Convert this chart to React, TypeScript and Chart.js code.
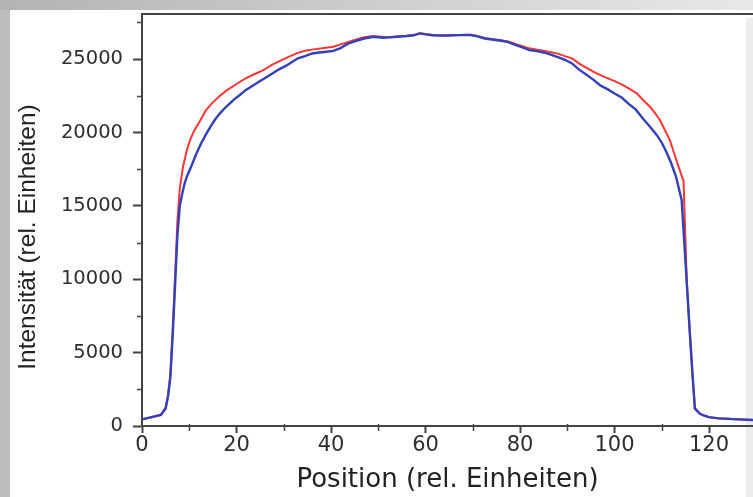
import React, { useEffect, useRef } from "react";
import { Chart, registerables } from "chart.js";

Chart.register(...registerables);

// ---- data ----
const bluePositions = [
  0, 2, 4, 5, 5.5, 6, 6.5, 7, 7.5, 8, 8.5, 9, 9.5, 10.5, 11.5, 12.5, 13.5, 14.5, 15.5, 16.5,
  17.5, 18.5, 19.5, 20.5, 22, 23.5, 25, 26.5, 28, 29, 30.5, 32, 33, 34.5, 36, 37.5, 39, 40.5,
  42, 43.5, 45, 47, 49, 51, 52.5, 54, 56, 57.5, 58.8, 60, 61.5, 63, 65, 67, 69.5, 71, 72.5, 74,
  76, 77.5, 79, 80.5, 82, 83.5, 85, 86.5, 88, 89.5, 91, 92.5, 94, 95.5, 97, 98.5, 100, 101.5,
  103, 104.5, 106, 107.5, 109, 110, 111, 112, 113, 114.2, 115.3, 116, 116.5, 117, 118, 119,
  120, 122, 125, 129.5,
];
const blueIntensity = [
  450, 600, 760, 1200, 2000, 3300, 6200, 9600, 13000, 15000, 15800, 16500, 17000, 17750, 18550,
  19250, 19850, 20400, 20900, 21300, 21650, 21950, 22250, 22500, 22900, 23200, 23500, 23800,
  24100, 24300, 24550, 24850, 25050, 25200, 25380, 25450, 25500, 25560, 25750, 26030, 26200,
  26400, 26520, 26450, 26480, 26520, 26570, 26620, 26750, 26680, 26620, 26600, 26610, 26630,
  26640, 26550, 26400, 26330, 26250, 26150, 25960, 25800, 25610, 25540, 25450, 25300, 25130,
  24950, 24700, 24280, 23950, 23600, 23200, 22950, 22650, 22380, 21950, 21550, 20950, 20390,
  19800, 19300, 18650, 17900, 17000, 15400, 9700, 6000, 3500, 1200, 850, 700, 600, 520, 470, 410,
];

const redPositions = [
  0, 2, 4, 5, 5.5, 6, 6.5, 7, 7.5, 8, 8.7, 9.5, 10.2, 11, 12.3, 13.5, 15, 16.5, 18, 20, 22, 24,
  25.7, 27.5, 29.2, 31, 32.7, 34.5, 36.3, 38.5, 40.5, 42, 43.5, 45, 47, 49, 51, 52.5, 54, 56,
  57.5, 58.8, 60, 61.5, 63, 65, 67, 69.5, 71, 72.5, 74, 76, 77.5, 79, 80.5, 82, 83.5, 85, 86.5,
  88, 89.5, 91, 92.7, 94, 95.5, 97, 98.5, 100, 101.5, 103, 104.7, 106, 107.5, 108.5, 109.6,
  110.6, 111.7, 112.6, 113.5, 114.6, 115.3, 116, 116.5, 117, 118, 119, 120, 122, 125, 129.5,
];
const redIntensity = [
  450, 600, 760, 1250, 2100, 3500, 6600, 10200, 14000, 16200, 17700, 18800, 19500, 20100, 20800,
  21500, 22050, 22500, 22880, 23300, 23700, 24000, 24250, 24600, 24880, 25150, 25390, 25560,
  25660, 25760, 25840, 26000, 26150, 26300, 26480, 26570, 26500, 26500, 26540, 26590, 26640,
  26760, 26700, 26640, 26620, 26620, 26640, 26650, 26580, 26440, 26370, 26290, 26200, 26030,
  25880, 25730, 25640, 25560, 25460, 25370, 25200, 25050, 24660, 24420, 24150, 23900, 23700,
  23500, 23280, 23000, 22660, 22230, 21750, 21350, 20850, 20200, 19480, 18600, 17700, 16700,
  9700, 6000, 3500, 1200, 850, 700, 600, 520, 470, 410,
];

const xTickValues = [0, 20, 40, 60, 80, 100, 120];
const xMinorTicks = [10, 30, 50, 70, 90, 110, 130];
const yTickValues = [0, 5000, 10000, 15000, 20000, 25000];
const yMinorTicks = [2500, 7500, 12500, 17500, 22500, 27500];
const xTitle = "Position (rel. Einheiten)";
const yTitle = "Intensität (rel. Einheiten)";

const AXIS = "#444444";
const TEXT = "#2e2e2e";

const framePlugin = {
  id: "frame",
  beforeDraw(chart: any) {
    const { ctx, width, height } = chart;
    ctx.save();
    ctx.fillStyle = "#ececec";
    ctx.fillRect(0, 0, width, height);
    const g = ctx.createLinearGradient(0, 0, width, 0);
    g.addColorStop(0, "#b3b3b3");
    g.addColorStop(1, "#e8e8e8");
    ctx.fillStyle = g;
    ctx.fillRect(0, 0, width, 10);
    ctx.fillStyle = "#bdbdbd";
    ctx.fillRect(0, 10, 10, height - 10);
    ctx.fillStyle = "#ffffff";
    ctx.fillRect(10, 10, 736, height - 10);
    ctx.fillRect(746, 10, width - 746, 8);
    ctx.restore();
  },
  afterDraw(chart: any) {
    const { ctx, chartArea, scales } = chart;
    const xs = scales.x;
    const ys = scales.y;
    ctx.save();
    ctx.strokeStyle = AXIS;
    ctx.lineWidth = 2;
    ctx.beginPath();
    ctx.moveTo(chartArea.left - 1, chartArea.top);
    ctx.lineTo(chart.width, chartArea.top);
    ctx.stroke();

    ctx.lineWidth = 1.5;
    ctx.beginPath();
    for (const v of xMinorTicks) {
      const px = Math.round(xs.getPixelForValue(v)) + 0.5;
      if (px > chartArea.right) continue;
      ctx.moveTo(px, chartArea.bottom - 2);
      ctx.lineTo(px, chartArea.bottom + 5);
    }
    for (const v of yMinorTicks) {
      const py = Math.round(ys.getPixelForValue(v)) + 0.5;
      if (py < chartArea.top) continue;
      ctx.moveTo(chartArea.left - 5, py);
      ctx.lineTo(chartArea.left, py);
    }
    ctx.stroke();

    ctx.translate(28.5, 237);
    ctx.rotate(-Math.PI / 2);
    ctx.font = "24.5px 'Liberation Sans', Arial, sans-serif";
    ctx.textAlign = "center";
    ctx.textBaseline = "middle";
    ctx.fillStyle = "#222222";
    ctx.fillText(yTitle, 0, 0);
    ctx.restore();
  },
};

export default function App() {
  const canvasRef = useRef<HTMLCanvasElement | null>(null);

  useEffect(() => {
    const canvas = canvasRef.current;
    if (!canvas) return;
    const chart = new Chart(canvas, {
      type: "line",
      data: {
        datasets: [
          {
            label: "blau",
            data: bluePositions.map((x, i) => ({ x, y: blueIntensity[i] })),
            borderColor: "rgb(52, 64, 186)",
            borderWidth: 2.4,
            pointRadius: 0,
            tension: 0,
            fill: false,
          },
          {
            label: "rot",
            data: redPositions.map((x, i) => ({ x, y: redIntensity[i] })),
            borderColor: "rgb(255, 52, 52)",
            borderWidth: 2,
            pointRadius: 0,
            tension: 0,
            fill: false,
          },
        ],
      },
      options: {
        animation: false,
        responsive: false,
        devicePixelRatio: 1,
        layout: { padding: { top: 14, right: 0, left: 0, bottom: 0 } },
        plugins: {
          legend: { display: false },
          tooltip: { enabled: false },
        },
        scales: {
          x: {
            type: "linear",
            min: 0,
            max: 129.3,
            afterBuildTicks: (scale: any) => {
              scale.ticks = xTickValues.map((v) => ({ value: v }));
            },
            afterFit: (scale: any) => {
              scale.height = 71;
              scale.paddingLeft = 0;
              scale.paddingRight = 0;
            },
            grid: {
              drawOnChartArea: false,
              drawTicks: true,
              tickLength: 7,
              tickColor: AXIS,
              tickWidth: 2,
            },
            border: { display: true, color: AXIS, width: 2 },
            ticks: {
              color: TEXT,
              padding: 0,
              maxRotation: 0,
              callback: (v: any) => String(v),
              font: { family: "'DejaVu Sans', sans-serif", size: 21 },
            },
            title: {
              display: true,
              text: xTitle,
              color: "#222222",
              padding: { top: 0, bottom: 1 },
              font: { family: "'DejaVu Sans', sans-serif", size: 26 },
            },
          },
          y: {
            type: "linear",
            min: 0,
            max: 28070,
            afterBuildTicks: (scale: any) => {
              scale.ticks = yTickValues.map((v) => ({ value: v }));
            },
            afterFit: (scale: any) => {
              scale.width = 142;
              scale.paddingTop = 0;
              scale.paddingBottom = 0;
            },
            grid: {
              drawOnChartArea: false,
              drawTicks: true,
              tickLength: 9,
              tickColor: AXIS,
              tickWidth: 2,
            },
            border: { display: true, color: AXIS, width: 2 },
            ticks: {
              color: TEXT,
              padding: 10,
              callback: (v: any) => String(v),
              font: { family: "'DejaVu Sans', sans-serif", size: 19.5 },
            },
          },
        },
      },
      plugins: [framePlugin],
    } as any);
    return () => chart.destroy();
  }, []);

  return (
    <div style={{ position: "fixed", left: 0, top: 0, width: 753, height: 497 }}>
      <canvas ref={canvasRef} width={753} height={497} style={{ display: "block" }} />
    </div>
  );
}
